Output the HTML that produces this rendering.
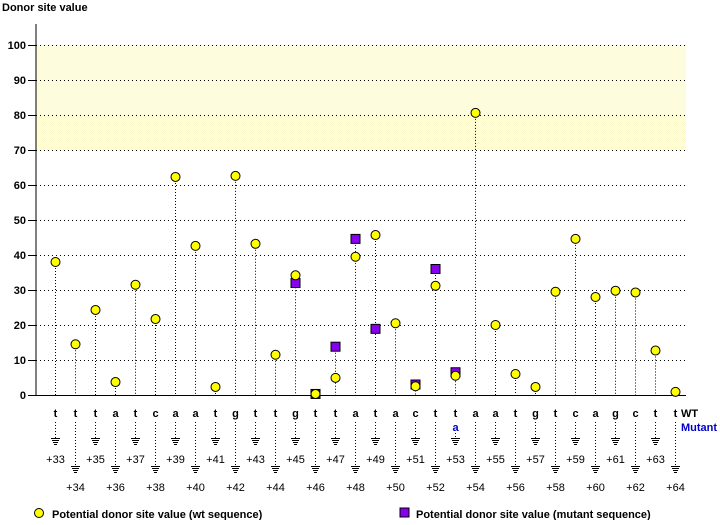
<!DOCTYPE html>
<html><head><meta charset="utf-8"><style>
body{margin:0;background:#fff}
svg text{font-family:"Liberation Sans",sans-serif;font-size:11px}
.b{font-weight:bold}
</style></head><body>
<svg width="720" height="520" xmlns="http://www.w3.org/2000/svg">
<defs>
<pattern id="dith" width="2" height="2" patternUnits="userSpaceOnUse">
<rect width="2" height="2" fill="#fff"/><rect width="1" height="1" fill="#fbf8cc"/><rect x="1" y="1" width="1" height="1" fill="#fbf8cc"/>
</pattern>
</defs>
<rect x="36" y="45" width="650" height="70" fill="#fdfcdc"/>
<rect x="36" y="115" width="650" height="35" fill="url(#dith)"/>
<text x="2" y="11" class="b">Donor site value</text>
<g id="grid"></g>
<line x1="36" y1="24" x2="36" y2="395" stroke="#000"/>
<line x1="36" y1="395.5" x2="686" y2="395.5" stroke="#000"/>
<g id="yax"></g>
<g id="data"></g>
<g id="bot"></g>
<text x="681" y="417" class="b">WT</text>
<text x="681" y="431" class="b" fill="#0000cc">Mutant</text>
<circle cx="39" cy="513" r="4.5" fill="#ffff00" stroke="#000"/>
<text x="52" y="518" class="b">Potential donor site value (wt sequence)</text>
<rect x="400" y="508" width="9" height="9" fill="#8800ee" stroke="#000"/>
<text x="416" y="518" class="b">Potential donor site value (mutant sequence)</text>
<script>
const ns="http://www.w3.org/2000/svg";
function el(p,t,a,txt){const e=document.createElementNS(ns,t);for(const k in a)e.setAttribute(k,a[k]);if(txt!=null)e.textContent=txt;p.appendChild(e);return e;}
const Y=v=>395-v*3.5;
const grid=document.getElementById('grid'),yax=document.getElementById('yax'),data=document.getElementById('data'),bot=document.getElementById('bot');
for(let v=10;v<=100;v+=10){el(grid,'line',{x1:36,y1:Y(v)+0.5,x2:686,y2:Y(v)+0.5,stroke:'#000','stroke-dasharray':'1,3'});}
for(let v=0;v<=100;v+=10){el(yax,'line',{x1:28,y1:Y(v)+0.5,x2:36,y2:Y(v)+0.5,stroke:'#000'});el(yax,'text',{x:26,y:Y(v)+4,'text-anchor':'end',class:'b'},v);}
const letters="tttatcaatgttgttatacttaatgtcagctt".split("");
const wt=[38,14.5,24.3,3.7,31.5,21.7,62.3,42.6,2.3,62.6,43.2,11.5,34.2,0.3,4.9,39.5,45.7,20.5,2.5,31.2,5.5,80.6,20,6,2.3,29.5,44.6,28,29.8,29.3,12.7,0.9];
const mut={12:32,13:0.3,14:13.8,15:44.6,16:18.9,18:3,19:36,20:6.5};
for(let i=0;i<32;i++){
 const x=55+20*i+0.5;
 let top=wt[i]; if(mut[i]!=null) top=Math.max(top,mut[i]);
 el(grid,'line',{x1:x,y1:Y(top),x2:x,y2:395,stroke:'#000','stroke-dasharray':'1,2'});
 if(mut[i]!=null) el(data,'rect',{x:x-4.5,y:Y(mut[i])-4.5,width:9,height:9,fill:'#8800ee',stroke:'#000'});
 el(data,'circle',{cx:x,cy:Y(wt[i]),r:4.5,fill:'#ffff00',stroke:'#000'});
 el(bot,'text',{x:x,y:417,'text-anchor':'middle',class:'b'},letters[i]);
 const odd=i%2==0;
 const gy=odd?438:466;
 let sy=422; if(i==20){el(bot,'text',{x:x,y:431,'text-anchor':'middle',class:'b',fill:'#0000cc'},'a');sy=433;}
 el(bot,'line',{x1:x,y1:sy,x2:x,y2:gy,stroke:'#000','stroke-dasharray':'1,2'});
 [9,7,5,3].forEach((w,k)=>el(bot,'line',{x1:x-w/2,y1:gy+k*2+0.5,x2:x+w/2,y2:gy+k*2+0.5,stroke:'#000'}));
 el(bot,'text',{x:x,y:odd?463:491,'text-anchor':'middle'},'+'+(33+i));
}
</script>
</svg>
</body></html>
